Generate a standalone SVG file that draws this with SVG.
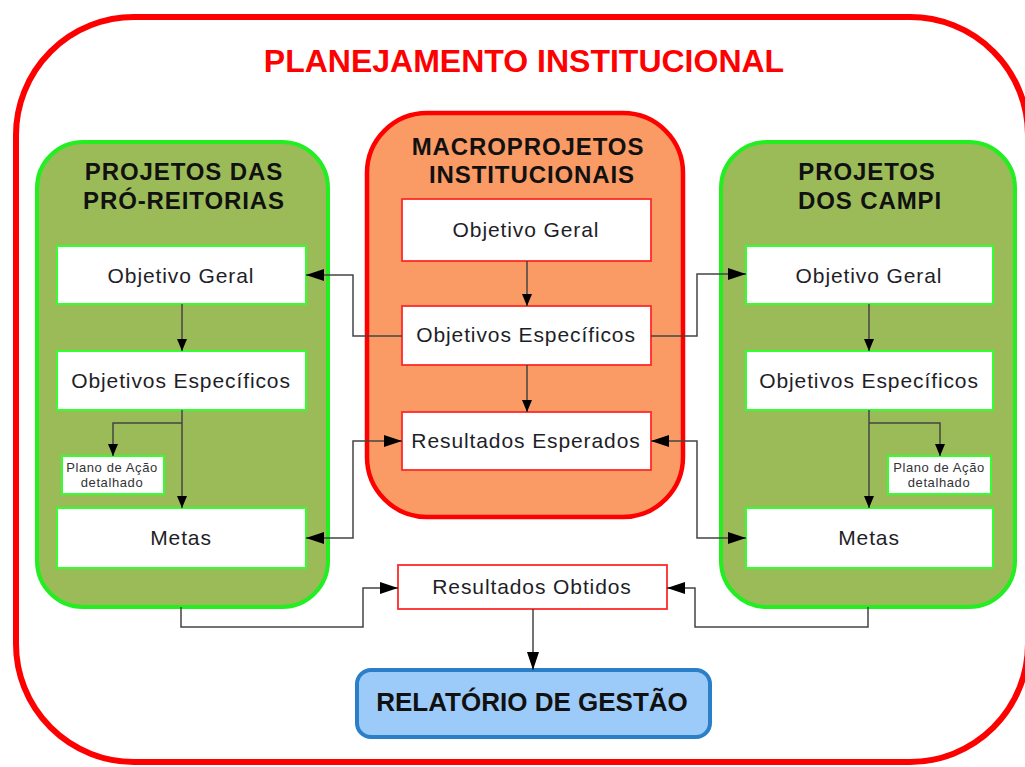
<svg xmlns="http://www.w3.org/2000/svg" width="1025" height="767" viewBox="0 0 1025 767">
<defs>
<marker id="ah" markerUnits="userSpaceOnUse" markerWidth="18" markerHeight="12" refX="18" refY="6" orient="auto-start-reverse"><path d="M0,0 L18,6 L0,12 Z" fill="#000"/></marker>
<marker id="as" markerUnits="userSpaceOnUse" markerWidth="12" markerHeight="10" refX="12" refY="5" orient="auto-start-reverse"><path d="M0,0 L12,5 L0,10 Z" fill="#000"/></marker>
<style>
.panelG{fill:#9bbb59;stroke:#22ee22;stroke-width:4}
.panelO{fill:#fa9a64;stroke:#ff0000;stroke-width:4.5}
.boxG{fill:#fff;stroke:#33ff33;stroke-width:2}
.boxR{fill:#fff;stroke:#ff2a2a;stroke-width:1.8}
.t{font-family:"Liberation Sans",Arial,sans-serif;font-size:21px;fill:#1e1e28;text-anchor:middle;letter-spacing:0.9px}
.h{font-family:"Liberation Sans",Arial,sans-serif;font-size:24px;font-weight:bold;fill:#111;text-anchor:middle;letter-spacing:0.9px}
.s{font-family:"Liberation Sans",Arial,sans-serif;font-size:13px;fill:#333;text-anchor:middle;letter-spacing:0.6px}
.c{fill:none;stroke:#444;stroke-width:1.5}
</style>
</defs>
<rect width="1025" height="767" fill="#fff"/>
<g id="planejamento">
<rect x="16" y="17" width="1012" height="745" rx="118" ry="118" fill="#fff" stroke="#ff0000" stroke-width="6"/>
<text x="524" y="72" font-family="'Liberation Sans',Arial,sans-serif" font-size="32" font-weight="bold" fill="#ff0000" text-anchor="middle">PLANEJAMENTO INSTITUCIONAL</text>
</g>
<g id="pro-reitorias">
<rect class="panelG" x="37" y="142" width="291" height="465" rx="46"/>
<text class="h" x="184" y="180">PROJETOS DAS</text>
<text class="h" x="184" y="209">PRÓ-REITORIAS</text>
</g>
<g id="pr-objetivo-geral"><rect class="boxG" x="57" y="246" width="249" height="58"/><text class="t" x="181" y="283">Objetivo Geral</text></g>
<g id="pr-objetivos-especificos"><rect class="boxG" x="57" y="351" width="249" height="59"/><text class="t" x="181" y="388">Objetivos Específicos</text></g>
<g id="pr-plano"><rect class="boxG" x="62" y="456" width="102" height="38"/><text class="s" x="112" y="472">Plano de Ação</text><text class="s" x="112" y="487">detalhado</text></g>
<g id="pr-metas"><rect class="boxG" x="57" y="508" width="249" height="60"/><text class="t" x="181" y="545">Metas</text></g>
<g id="macroprojetos">
<rect class="panelO" x="367" y="113" width="316" height="404" rx="60"/>
<text class="h" x="528" y="155">MACROPROJETOS</text>
<text class="h" x="532" y="183">INSTITUCIONAIS</text>
</g>
<g id="mp-objetivo-geral"><rect class="boxR" x="402" y="199" width="249" height="62"/><text class="t" x="526" y="237">Objetivo Geral</text></g>
<g id="mp-objetivos-especificos"><rect class="boxR" x="402" y="306" width="249" height="59"/><text class="t" x="526" y="342">Objetivos Específicos</text></g>
<g id="mp-resultados-esperados"><rect class="boxR" x="402" y="412" width="249" height="58"/><text class="t" x="526" y="448">Resultados Esperados</text></g>
<g id="campi">
<rect class="panelG" x="721" y="142" width="294" height="465" rx="46"/>
<text class="h" x="867" y="180">PROJETOS</text>
<text class="h" x="870" y="209">DOS CAMPI</text>
</g>
<g id="ca-objetivo-geral"><rect class="boxG" x="746" y="246" width="247" height="58"/><text class="t" x="869" y="283">Objetivo Geral</text></g>
<g id="ca-objetivos-especificos"><rect class="boxG" x="746" y="351" width="247" height="59"/><text class="t" x="869" y="388">Objetivos Específicos</text></g>
<g id="ca-plano"><rect class="boxG" x="888" y="456" width="103" height="38"/><text class="s" x="939" y="472">Plano de Ação</text><text class="s" x="939" y="487">detalhado</text></g>
<g id="ca-metas"><rect class="boxG" x="746" y="508" width="247" height="60"/><text class="t" x="869" y="545">Metas</text></g>
<g id="resultados-obtidos"><rect class="boxR" x="398" y="565" width="269" height="44"/><text class="t" x="532" y="594" font-size="20">Resultados Obtidos</text></g>
<g id="relatorio"><rect x="357" y="670" width="353" height="67" rx="14" fill="#9dcbf9" stroke="#2a7fc8" stroke-width="4"/><text x="532" y="711" font-family="'Liberation Sans',Arial,sans-serif" font-size="26" font-weight="bold" fill="#111" text-anchor="middle">RELATÓRIO DE GESTÃO</text></g>
<g id="connectors">
<path class="c" d="M182,304 V351" marker-end="url(#as)"/>
<path class="c" d="M182,410 V508" marker-end="url(#as)"/>
<path class="c" d="M182,423 H113 V456" marker-end="url(#as)"/>
<path class="c" d="M869,304 V351" marker-end="url(#as)"/>
<path class="c" d="M869,410 V508" marker-end="url(#as)"/>
<path class="c" d="M869,423 H940 V456" marker-end="url(#as)"/>
<path class="c" d="M527,261 V306" marker-end="url(#as)"/>
<path class="c" d="M527,365 V412" marker-end="url(#as)"/>
<path class="c" d="M402,336 H353 V275 H306" marker-end="url(#ah)"/>
<path class="c" d="M651,336 H697 V274 H746" marker-end="url(#ah)"/>
<path class="c" d="M306,538 H353 V441 H402" marker-start="url(#ah)" marker-end="url(#ah)"/>
<path class="c" d="M651,441 H697 V538 H746" marker-start="url(#ah)" marker-end="url(#ah)"/>
<path class="c" d="M181,607 V627 H363 V588 H398" marker-end="url(#ah)"/>
<path class="c" d="M868,607 V627 H695 V588 H667" marker-end="url(#ah)"/>
<path class="c" d="M533,609 V670" marker-end="url(#ah)"/>
</g>
</svg>
